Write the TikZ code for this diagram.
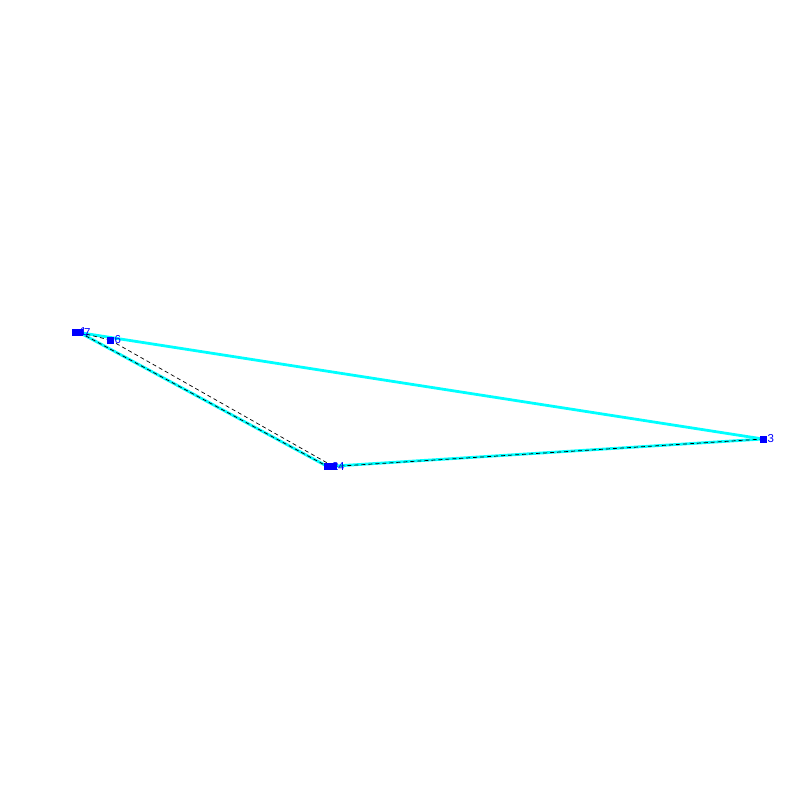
\documentclass[tikz,border=0pt]{standalone}
\usepackage{fontspec}
\setmainfont{Liberation Sans}
\definecolor{linecyan}{RGB}{0,255,255}
\definecolor{ptblue}{RGB}{0,0,255}
\begin{document}
\begin{tikzpicture}[x=1pt,y=-1pt,
  pt/.style={draw=none,fill=ptblue,minimum size=7pt,inner sep=0pt,outer sep=0pt},
  lbl/.style={text=ptblue,font=\fontsize{11.5}{11.5}\selectfont,inner sep=0pt,anchor=west},
  cy/.style={draw=linecyan,line width=2.8pt},
  dsh/.style={draw=black,line width=0.7pt,dash pattern=on 4pt off 3pt}]
\useasboundingbox (0,0) rectangle (800,800);
\node[pt] (n1) at (75.5,332) {};
\node[pt] (n7) at (79.5,332.5) {};
\node[pt] (n6) at (110,340) {};
\node[pt] (n2) at (327.5,466.5) {};
\node[pt] (n4) at (333.5,466.5) {};
\node[pt] (n3) at (763,439) {};
\draw[cy] (n1.center) -- (n3.center);
\draw[cy] (n7.center) -- (n2.center);
\draw[cy] (n2.center) -- (n3.center);
\draw[dsh] (n7.center) -- (n6.center);
\draw[dsh] (n6.center) -- (n4.center);
\draw[dsh] (n7.center) -- (n2.center);
\draw[dsh] (n4.center) -- (n3.center);
\node[pt] at (n1) {};
\node[lbl] (l1) at ([xshift=1pt]n1.east) {1};
\node[pt] at (n7) {};
\node[lbl] (l7) at ([xshift=1pt]n7.east) {7};
\node[pt] at (n6) {};
\node[lbl] (l6) at ([xshift=1pt]n6.east) {6};
\node[pt] at (n2) {};
\node[lbl] (l2) at ([xshift=1pt]n2.east) {2};
\node[pt] at (n4) {};
\node[lbl] (l4) at ([xshift=1pt]n4.east) {4};
\node[pt] at (n3) {};
\node[lbl] (l3) at ([xshift=1pt]n3.east) {3};
\end{tikzpicture}
\end{document}
